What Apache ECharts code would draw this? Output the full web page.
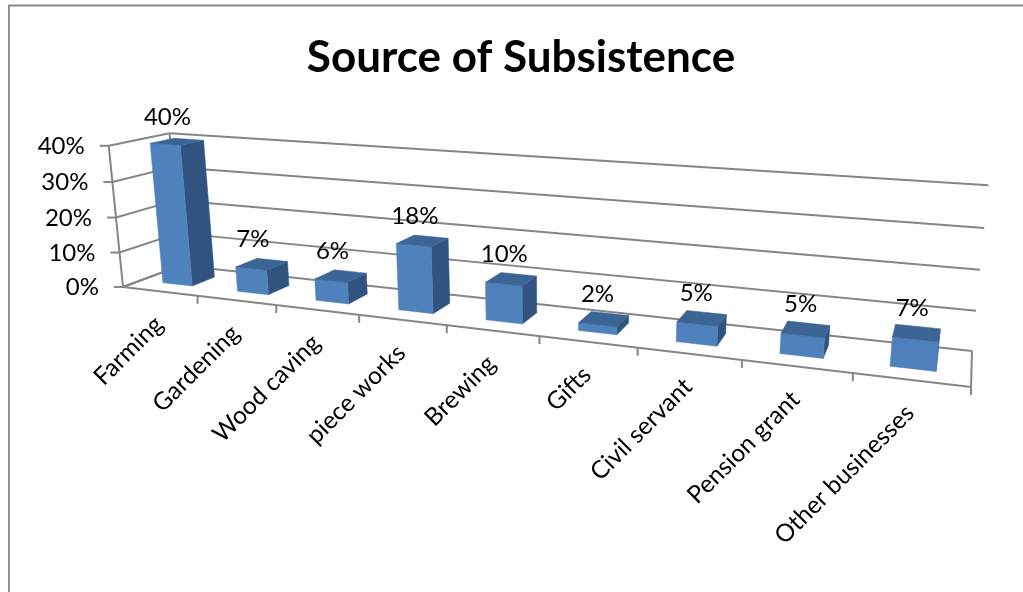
<!DOCTYPE html>
<html>
<head>
<meta charset="utf-8">
<style>html,body{margin:0;padding:0;background:#fff}#chart{width:1023px;height:592px}</style>
<script src="https://cdn.jsdelivr.net/npm/echarts@6/dist/echarts.min.js"></script>
</head>
<body>
<div id="chart"></div>
<script>
// Chart content
const chartTitle = 'Source of Subsistence';
const categories = ['Farming', 'Gardening', 'Wood caving', 'piece works', 'Brewing', 'Gifts', 'Civil servant', 'Pension grant', 'Other businesses'];
const shares = [40, 7, 6, 18, 10, 2, 5, 5, 7];
const valueTicks = [0, 10, 20, 30, 40];

// Colours and line styles of the 3D column look
const FRONT = '#4f81bd', TOP = '#3c6595', SIDE = '#30537f', RULE = '#868686', INK = '#000';
const FONT = 'Lato, "Noto Sans", sans-serif';

// Camera: where the box corners land on the page, in (along, depth) floor order
const floor = [[123, 287], [971, 387], [972, 351], [181, 265.4]];
const lifted = [{ u: 0, v: 0, at: [109, 147.5] }, { u: 0, v: 1, at: [168, 133.5] }, { u: 1, v: 1, at: [990, 183] }];
const HEIGHT_FIT_WEIGHT = 4; // vertical residuals count more than horizontal ones in the fit

function floorHomography(q) {
  const [p0, p1, p2, p3] = q;
  const dx1 = p1[0] - p2[0], dx2 = p3[0] - p2[0], sx = p0[0] - p1[0] + p2[0] - p3[0];
  const dy1 = p1[1] - p2[1], dy2 = p3[1] - p2[1], sy = p0[1] - p1[1] + p2[1] - p3[1];
  const det = dx1 * dy2 - dx2 * dy1;
  const g = (sx * dy2 - dx2 * sy) / det, h = (dx1 * sy - sx * dy1) / det;
  return [p1[0] - p0[0] + g * p1[0], p3[0] - p0[0] + h * p3[0], p0[0],
          p1[1] - p0[1] + g * p1[1], p3[1] - p0[1] + h * p3[1], p0[1], g, h];
}
const H = floorHomography(floor);
const base = (u, v) => [H[0] * u + H[1] * v + H[2], H[3] * u + H[4] * v + H[5], H[6] * u + H[7] * v + 1];

function solve3(M, r) {
  const m = M.map((row, i) => row.concat(r[i]));
  for (let i = 0; i < 3; i++) {
    let p = i;
    for (let k = i + 1; k < 3; k++) if (Math.abs(m[k][i]) > Math.abs(m[p][i])) p = k;
    [m[i], m[p]] = [m[p], m[i]];
    for (let k = 0; k < 3; k++) {
      if (k === i) continue;
      const f = m[k][i] / m[i][i];
      for (let j = i; j < 4; j++) m[k][j] -= f * m[i][j];
    }
  }
  return m.map((row, i) => row[3] / row[i]);
}

// Height column of the projective matrix, least squares over the lifted corners
const up = (function () {
  const N = [[0, 0, 0], [0, 0, 0], [0, 0, 0]], R = [0, 0, 0];
  lifted.forEach(({ u, v, at }) => {
    const [X, Y, W] = base(u, v);
    const k = HEIGHT_FIT_WEIGHT;
    [[[1, 0, -at[0]], at[0] * W - X], [[0, k, -k * at[1]], k * (at[1] * W - Y)]].forEach(([row, rhs]) => {
      for (let i = 0; i < 3; i++) {
        R[i] += row[i] * rhs;
        for (let j = 0; j < 3; j++) N[i][j] += row[i] * row[j];
      }
    });
  });
  return solve3(N, R);
})();

function project(u, v, w) {
  const [X, Y, W] = base(u, v);
  const d = W + up[2] * w;
  return [(X + up[0] * w) / d, (Y + up[1] * w) / d];
}

// The hidden cartesian grid supplies the scales; its fractions become box coordinates
function boxU(params, px) { return (px - params.coordSys.x) / params.coordSys.width; }
function boxW(params, py) { return 1 - (py - params.coordSys.y) / params.coordSys.height; }

const line = (a, b, width) => ({
  type: 'line', silent: true,
  shape: { x1: a[0], y1: a[1], x2: b[0], y2: b[1] },
  style: { stroke: RULE, lineWidth: width || 2 }
});
const quad = (pts, fill) => ({
  type: 'polygon', silent: true,
  shape: { points: pts },
  style: { fill: fill, stroke: fill, lineWidth: 0.5 }
});
const text = (str, x, y, size, extra) => ({
  type: 'text', silent: true, x: x, y: y, rotation: (extra && extra.rotation) || 0,
  style: {
    text: str, fill: INK, font: size + 'px ' + FONT,
    align: (extra && extra.align) || 'center', verticalAlign: 'middle'
  }
});

// Walls, value rules and value tick labels
function renderWall(params, api) {
  const w = boxW(params, api.coord([0, api.value(0)])[1]);
  const front = project(0, 0, w), back = project(0, 1, w), far = project(1, 1, w);
  return {
    type: 'group',
    children: [
      line(front, back), line(back, far),
      line(front, [front[0] - 9, front[1]]),
      text(api.value(0) + '%', front[0] - 24, front[1] + 0.5, 24, { align: 'right' })
    ]
  };
}

// Floor ticks and slanted category labels
function renderFloorTick(params, api) {
  const i = api.value(0);
  const centre = api.coord([i, 0]);
  const cell = api.size([1, 0])[0];
  const right = boxU(params, centre[0] + cell / 2);
  const mid = boxU(params, centre[0]);
  const tick = project(right, 0, 0);
  const foot = project(mid, 0, 0);
  return {
    type: 'group',
    children: [
      line(tick, [tick[0], tick[1] + 8]),
      text(categories[i], foot[0] - 1, foot[1] + 29, 24.5, { align: 'right', rotation: Math.PI / 4 })
    ]
  };
}

// One 3D column: right side, front and top, plus its value label
function renderColumn(params, api) {
  const i = api.value(0);
  const centre = api.coord([i, api.value(1)]);
  const cell = api.size([1, 0])[0] * 0.4;
  const u0 = boxU(params, centre[0] - cell / 2), u1 = boxU(params, centre[0] + cell / 2);
  const w = boxW(params, centre[1]);
  const v0 = 0.3, v1 = 0.7;
  const uMid = (u0 + u1) / 2;
  const topMid = project(uMid, (v0 + v1) / 2, w);
  return {
    type: 'group',
    children: [
      quad([project(u1, v0, 0), project(u1, v1, 0), project(u1, v1, w), project(u1, v0, w)], SIDE),
      quad([project(u0, v0, 0), project(u1, v0, 0), project(u1, v0, w), project(u0, v0, w)], FRONT),
      quad([project(u0, v0, w), project(u1, v0, w), project(u1, v1, w), project(u0, v1, w)], TOP),
      text(api.value(1) + '%', topMid[0] - 10 + 6 * uMid, topMid[1] - 25, 24)
    ]
  };
}

const chart = echarts.init(document.getElementById('chart'), null, { renderer: 'canvas' });
chart.setOption({
  animation: false,
  backgroundColor: '#fff',
  title: {
    text: chartTitle, left: 516, top: 31, textAlign: 'center',
    textStyle: { fontFamily: FONT, fontSize: 44, fontWeight: 'bold', color: INK }
  },
  grid: { left: 0, right: 0, top: 0, bottom: 0 },
  xAxis: { type: 'category', data: categories, show: false },
  yAxis: { type: 'value', min: 0, max: 40, interval: 10, show: false },
  graphic: [
    { type: 'polyline', silent: true, shape: { points: [[9, 592], [9, 5.5], [1023, 5.5]] }, style: { stroke: RULE, fill: null, lineWidth: 1.8 } }
  ],
  series: [
    {
      type: 'custom', silent: true, clip: false, z: 1,
      data: valueTicks.map(t => [t]), encode: { x: -1, y: 0 },
      renderItem: renderWall
    },
    {
      type: 'custom', silent: true, clip: false, z: 2,
      data: categories.map((c, i) => [i]), encode: { x: 0, y: -1 },
      renderItem: renderFloorTick
    },
    {
      type: 'custom', silent: true, clip: false, z: 3,
      data: [[0, 1]], encode: { x: -1, y: -1 },
      renderItem: function () {
        return {
          type: 'group',
          children: [
            line(project(0, 0, 0), project(0, 0, 1)),
            line(project(0, 1, 0), project(0, 1, 1)),
            line(project(0, 0, 0), project(1, 0, 0)),
            line(project(1, 0, 0), project(1, 1, 0)),
            line(project(0, 1, 0), project(0, 0, 0))
          ]
        };
      }
    },
    {
      type: 'custom', silent: true, clip: false, z: 4,
      data: shares.map((s, i) => [i, s]), encode: { x: 0, y: 1 },
      renderItem: renderColumn
    }
  ]
});
</script>
</body>
</html>
